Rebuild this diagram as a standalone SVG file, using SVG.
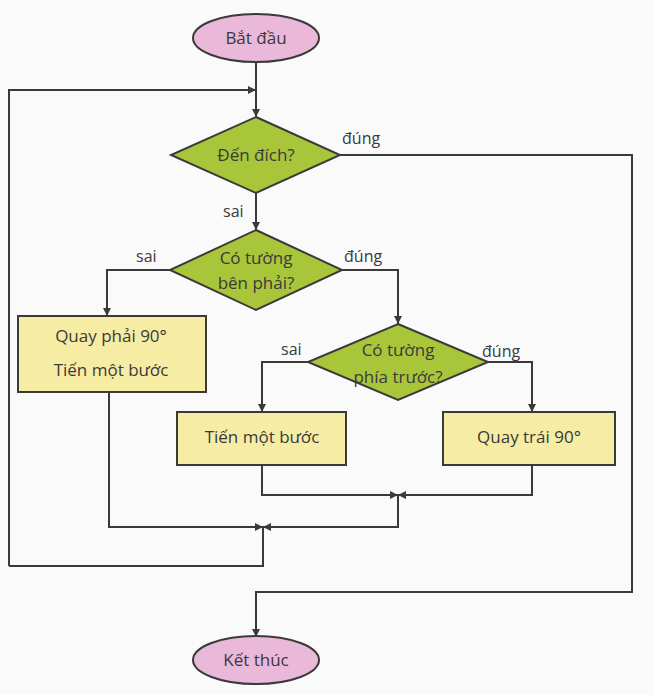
<svg xmlns="http://www.w3.org/2000/svg" width="654" height="695" viewBox="0 0 654 695">
<style>
.t{font-family:"Open Sans","Liberation Sans",sans-serif;font-size:17px;fill:#3a3a3a;text-anchor:middle}
.l{font-family:"Open Sans","Liberation Sans",sans-serif;font-size:16px;fill:#3a3a3a}
.e{fill:#eab8d8;stroke:#3a3a3a;stroke-width:2}
.d{fill:#a9c53a;stroke:#3a3a3a;stroke-width:2}
.b{fill:#f6eca4;stroke:#3a3a3a;stroke-width:2}
.c{fill:none;stroke:#3a3a3a;stroke-width:2}
</style>
<defs><marker id="a" viewBox="0 0 10 10" refX="10" refY="5" markerWidth="4" markerHeight="4" orient="auto"><path d="M0,0L10,5L0,10z" fill="#3a3a3a"/></marker></defs>
<rect width="654" height="695" fill="#fafafa"/>
<g id="connectors">
<path class="c" d="M256,62V117" marker-end="url(#a)"/>
<path class="c" d="M9,566V90H256" marker-end="url(#a)"/>
<path class="c" d="M256,193V230" marker-end="url(#a)"/>
<path class="c" d="M340,155H632V592H256V637" marker-end="url(#a)"/>
<path class="c" d="M170,270H107V316" marker-end="url(#a)"/>
<path class="c" d="M342,270H398V324" marker-end="url(#a)"/>
<path class="c" d="M308,362H262V412" marker-end="url(#a)"/>
<path class="c" d="M488,362H532V412" marker-end="url(#a)"/>
<path class="c" d="M262,465V495H398" marker-end="url(#a)"/>
<path class="c" d="M532,465V495H398" marker-end="url(#a)"/>
<path class="c" d="M398,495V527H263" marker-end="url(#a)"/>
<path class="c" d="M109,392V527H263" marker-end="url(#a)"/>
<path class="c" d="M263,527V566H9"/>
<text class="l" x="342" y="144">đúng</text>
<text class="l" x="223" y="217">sai</text>
<text class="l" x="136" y="262">sai</text>
<text class="l" x="344" y="262">đúng</text>
<text class="l" x="281" y="355">sai</text>
<text class="l" x="482" y="357">đúng</text>
</g>
<g id="start"><ellipse class="e" cx="256" cy="38" rx="63" ry="24"/><text class="t" x="256" y="44">Bắt đầu</text></g>
<g id="q1"><path class="d" d="M256,117L340,155L256,193L171,155z"/><text class="t" x="256" y="161">Đến đích?</text></g>
<g id="q2"><path class="d" d="M256,230L342,270L256,310L170,270z"/><text class="t" x="256" y="264">Có tường</text><text class="t" x="256" y="289">bên phải?</text></g>
<g id="box1"><rect class="b" x="18" y="316" width="188" height="76"/><text class="t" x="111" y="342">Quay phải 90°</text><text class="t" x="111" y="376">Tiến một bước</text></g>
<g id="q3"><path class="d" d="M398,324L488,362L398,400L308,362z"/><text class="t" x="398" y="356">Có tường</text><text class="t" x="398" y="383">phía trước?</text></g>
<g id="box2"><rect class="b" x="177" y="412" width="169" height="53"/><text class="t" x="262" y="443">Tiến một bước</text></g>
<g id="box3"><rect class="b" x="443" y="412" width="172" height="53"/><text class="t" x="529" y="443">Quay trái 90°</text></g>
<g id="end"><ellipse class="e" cx="256" cy="660" rx="63" ry="24"/><text class="t" x="256" y="666">Kết thúc</text></g>
</svg>
